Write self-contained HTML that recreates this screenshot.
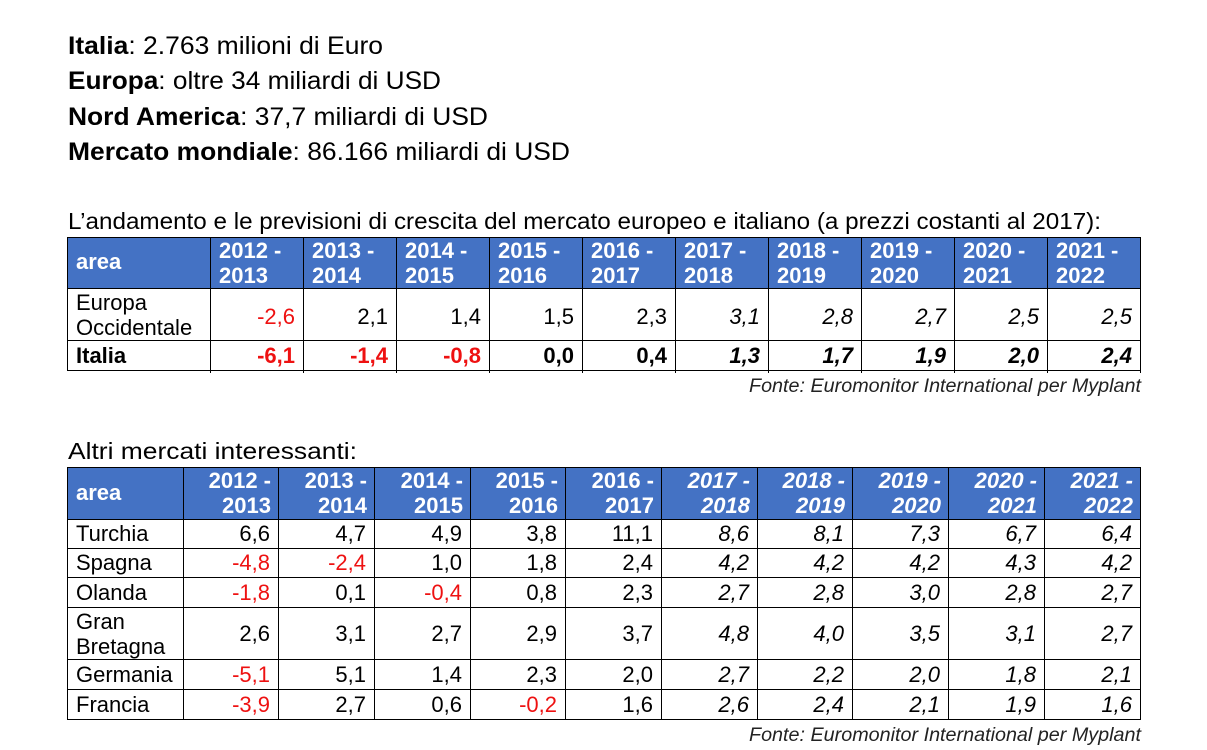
<!DOCTYPE html>
<html><head><meta charset="utf-8"><style>
html,body{margin:0;padding:0;background:#fff;}
svg{display:block;}
.t{font-family:"Liberation Sans",Arial,sans-serif;font-size:22px;fill:#000;}
.h{font-family:"Liberation Sans",Arial,sans-serif;font-size:22px;font-weight:bold;fill:#fff;}
.r{fill:#ee1111;}
.b{font-weight:bold;}
.i{font-style:italic;}
</style></head><body>
<svg width="1207" height="750" viewBox="0 0 1207 750" xmlns="http://www.w3.org/2000/svg">
<rect width="1207" height="750" fill="#fff"/>
<!-- top lines -->
<g font-family="'Liberation Sans',Arial,sans-serif" font-size="25" fill="#000">
<text x="68" y="54" textLength="315" lengthAdjust="spacingAndGlyphs"><tspan font-weight="bold">Italia</tspan>: 2.763 milioni di Euro</text>
<text x="68" y="89" textLength="373" lengthAdjust="spacingAndGlyphs"><tspan font-weight="bold">Europa</tspan>: oltre 34 miliardi di USD</text>
<text x="68" y="125" textLength="420" lengthAdjust="spacingAndGlyphs"><tspan font-weight="bold">Nord America</tspan>: 37,7 miliardi di USD</text>
<text x="68" y="160" textLength="502" lengthAdjust="spacingAndGlyphs"><tspan font-weight="bold">Mercato mondiale</tspan>: 86.166 miliardi di USD</text>
<text x="68" y="229" font-size="23" textLength="1033" lengthAdjust="spacingAndGlyphs">L’andamento e le previsioni di crescita del mercato europeo e italiano (a prezzi costanti al 2017):</text>
<text x="68" y="459" font-size="23" textLength="289" lengthAdjust="spacingAndGlyphs">Altri mercati interessanti:</text>
<text x="749" y="392" font-size="19" font-style="italic" fill="#222" textLength="392" lengthAdjust="spacingAndGlyphs">Fonte: Euromonitor International per Myplant</text>
<text x="749" y="741" font-size="19" font-style="italic" fill="#222" textLength="392" lengthAdjust="spacingAndGlyphs">Fonte: Euromonitor International per Myplant</text>
</g>

<!-- TABLE 1 -->
<rect x="67" y="237" width="1073" height="51" fill="#4472C4"/>
<g stroke="#000" stroke-width="1" shape-rendering="crispEdges">
<line x1="67" y1="237.5" x2="1140" y2="237.5"/>
<line x1="67" y1="288.5" x2="1140" y2="288.5"/>
<line x1="67" y1="340.5" x2="1140" y2="340.5"/>
<line x1="67" y1="370.5" x2="1140" y2="370.5"/>
<line x1="67.5" y1="237" x2="67.5" y2="371"/>
<line x1="210.5" y1="237" x2="210.5" y2="373"/>
<line x1="303.5" y1="237" x2="303.5" y2="373"/>
<line x1="396.5" y1="237" x2="396.5" y2="373"/>
<line x1="489.5" y1="237" x2="489.5" y2="373"/>
<line x1="582.5" y1="237" x2="582.5" y2="373"/>
<line x1="675.5" y1="237" x2="675.5" y2="373"/>
<line x1="768.5" y1="237" x2="768.5" y2="373"/>
<line x1="861.5" y1="237" x2="861.5" y2="373"/>
<line x1="954.5" y1="237" x2="954.5" y2="373"/>
<line x1="1047.5" y1="237" x2="1047.5" y2="373"/>
<line x1="1140.5" y1="237" x2="1140.5" y2="373"/>
</g>
<text class="h" x="76" y="269">area</text>
<g class="h">
<text x="219" y="258">2012 -</text><text x="219" y="283">2013</text>
<text x="312" y="258">2013 -</text><text x="312" y="283">2014</text>
<text x="405" y="258">2014 -</text><text x="405" y="283">2015</text>
<text x="498" y="258">2015 -</text><text x="498" y="283">2016</text>
<text x="591" y="258">2016 -</text><text x="591" y="283">2017</text>
<text x="684" y="258">2017 -</text><text x="684" y="283">2018</text>
<text x="777" y="258">2018 -</text><text x="777" y="283">2019</text>
<text x="870" y="258">2019 -</text><text x="870" y="283">2020</text>
<text x="963" y="258">2020 -</text><text x="963" y="283">2021</text>
<text x="1056" y="258">2021 -</text><text x="1056" y="283">2022</text>
</g>
<text class="t" x="76" y="310">Europa</text>
<text class="t" x="76" y="335">Occidentale</text>
<text class="t b" x="76" y="363">Italia</text>
<g class="t" text-anchor="end">
<text x="295" y="324" class="r">-2,6</text>
<text x="388" y="324">2,1</text>
<text x="481" y="324">1,4</text>
<text x="574" y="324">1,5</text>
<text x="667" y="324">2,3</text>
<text x="760" y="324" font-style="italic">3,1</text>
<text x="853" y="324" font-style="italic">2,8</text>
<text x="946" y="324" font-style="italic">2,7</text>
<text x="1039" y="324" font-style="italic">2,5</text>
<text x="1132" y="324" font-style="italic">2,5</text>
</g>
<g class="t" text-anchor="end" font-weight="bold">
<text x="295" y="363" class="r">-6,1</text>
<text x="388" y="363" class="r">-1,4</text>
<text x="481" y="363" class="r">-0,8</text>
<text x="574" y="363">0,0</text>
<text x="667" y="363">0,4</text>
<text x="760" y="363" font-style="italic">1,3</text>
<text x="853" y="363" font-style="italic">1,7</text>
<text x="946" y="363" font-style="italic">1,9</text>
<text x="1039" y="363" font-style="italic">2,0</text>
<text x="1132" y="363" font-style="italic">2,4</text>
</g>

<!-- TABLE 2 -->
<rect x="67" y="467" width="1073" height="52" fill="#4472C4"/>
<g stroke="#000" stroke-width="1" shape-rendering="crispEdges">
<line x1="67" y1="467.5" x2="1141" y2="467.5"/>
<line x1="67" y1="519.5" x2="1141" y2="519.5"/>
<line x1="67" y1="548.5" x2="1141" y2="548.5"/>
<line x1="67" y1="577.5" x2="1141" y2="577.5"/>
<line x1="67" y1="607.5" x2="1141" y2="607.5"/>
<line x1="67" y1="659.5" x2="1141" y2="659.5"/>
<line x1="67" y1="689.5" x2="1141" y2="689.5"/>
<line x1="67" y1="719.5" x2="1141" y2="719.5"/>
<line x1="67.5" y1="467" x2="67.5" y2="720"/>
<line x1="183.5" y1="467" x2="183.5" y2="720"/>
<line x1="278.5" y1="467" x2="278.5" y2="720"/>
<line x1="374.5" y1="467" x2="374.5" y2="720"/>
<line x1="470.5" y1="467" x2="470.5" y2="720"/>
<line x1="565.5" y1="467" x2="565.5" y2="720"/>
<line x1="661.5" y1="467" x2="661.5" y2="720"/>
<line x1="757.5" y1="467" x2="757.5" y2="720"/>
<line x1="852.5" y1="467" x2="852.5" y2="720"/>
<line x1="948.5" y1="467" x2="948.5" y2="720"/>
<line x1="1044.5" y1="467" x2="1044.5" y2="720"/>
<line x1="1140.5" y1="467" x2="1140.5" y2="720"/>
</g>
<text class="h" x="76" y="500">area</text>
<g class="h" text-anchor="end">
<text x="271" y="488">2012 -</text><text x="271" y="513">2013</text>
<text x="367" y="488">2013 -</text><text x="367" y="513">2014</text>
<text x="463" y="488">2014 -</text><text x="463" y="513">2015</text>
<text x="558" y="488">2015 -</text><text x="558" y="513">2016</text>
<text x="654" y="488">2016 -</text><text x="654" y="513">2017</text>
</g>
<g class="h" text-anchor="end" font-style="italic">
<text x="750" y="488">2017 -</text><text x="750" y="513">2018</text>
<text x="845" y="488">2018 -</text><text x="845" y="513">2019</text>
<text x="941" y="488">2019 -</text><text x="941" y="513">2020</text>
<text x="1037" y="488">2020 -</text><text x="1037" y="513">2021</text>
<text x="1133" y="488">2021 -</text><text x="1133" y="513">2022</text>
</g>
<g class="t">
<text x="76" y="541">Turchia</text>
<text x="76" y="570">Spagna</text>
<text x="76" y="600">Olanda</text>
<text x="76" y="629">Gran</text>
<text x="76" y="654">Bretagna</text>
<text x="76" y="682">Germania</text>
<text x="76" y="712">Francia</text>
</g>
<g class="t" text-anchor="end">
<!-- Turchia y541 -->
<text x="270" y="541">6,6</text><text x="366" y="541">4,7</text><text x="462" y="541">4,9</text><text x="557" y="541">3,8</text><text x="653" y="541">11,1</text>
<!-- Spagna -->
<text x="270" y="570" class="r">-4,8</text><text x="366" y="570" class="r">-2,4</text><text x="462" y="570">1,0</text><text x="557" y="570">1,8</text><text x="653" y="570">2,4</text>
<!-- Olanda -->
<text x="270" y="600" class="r">-1,8</text><text x="366" y="600">0,1</text><text x="462" y="600" class="r">-0,4</text><text x="557" y="600">0,8</text><text x="653" y="600">2,3</text>
<!-- Gran Bretagna -->
<text x="270" y="641">2,6</text><text x="366" y="641">3,1</text><text x="462" y="641">2,7</text><text x="557" y="641">2,9</text><text x="653" y="641">3,7</text>
<!-- Germania -->
<text x="270" y="682" class="r">-5,1</text><text x="366" y="682">5,1</text><text x="462" y="682">1,4</text><text x="557" y="682">2,3</text><text x="653" y="682">2,0</text>
<!-- Francia -->
<text x="270" y="712" class="r">-3,9</text><text x="366" y="712">2,7</text><text x="462" y="712">0,6</text><text x="557" y="712" class="r">-0,2</text><text x="653" y="712">1,6</text>
</g>
<g class="t" text-anchor="end" font-style="italic">
<text x="749" y="541">8,6</text><text x="844" y="541">8,1</text><text x="940" y="541">7,3</text><text x="1036" y="541">6,7</text><text x="1132" y="541">6,4</text>
<text x="749" y="570">4,2</text><text x="844" y="570">4,2</text><text x="940" y="570">4,2</text><text x="1036" y="570">4,3</text><text x="1132" y="570">4,2</text>
<text x="749" y="600">2,7</text><text x="844" y="600">2,8</text><text x="940" y="600">3,0</text><text x="1036" y="600">2,8</text><text x="1132" y="600">2,7</text>
<text x="749" y="641">4,8</text><text x="844" y="641">4,0</text><text x="940" y="641">3,5</text><text x="1036" y="641">3,1</text><text x="1132" y="641">2,7</text>
<text x="749" y="682">2,7</text><text x="844" y="682">2,2</text><text x="940" y="682">2,0</text><text x="1036" y="682">1,8</text><text x="1132" y="682">2,1</text>
<text x="749" y="712">2,6</text><text x="844" y="712">2,4</text><text x="940" y="712">2,1</text><text x="1036" y="712">1,9</text><text x="1132" y="712">1,6</text>
</g>
</svg>
</body></html>
